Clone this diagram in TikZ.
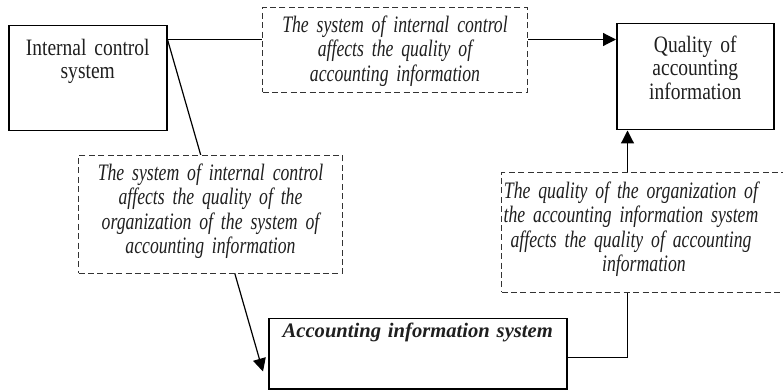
\documentclass[tikz,border=0pt]{standalone}
\usepackage{fontspec}
\setmainfont{Liberation Serif}
\newfontfamily\normfont{Liberation Serif}[FakeStretch=0.83]
\newfontfamily\notefont{Liberation Serif}[FakeStretch=0.75]
\usetikzlibrary{arrows.meta}
\begin{document}
\begin{tikzpicture}[x=0.5pt,y=-0.5pt,>={Triangle[length=6.5pt,width=6.5pt]},
  every node/.style={inner sep=0pt,anchor=north west,align=center,text=black!88},
  mainbox/.style={draw,line width=0.75pt,font=\normfont\fontsize{11.75}{11.6}\selectfont},
  notebox/.style={draw=black!80,fill=white,dash pattern=on 3pt off 1.7pt,line width=0.5pt,font=\notefont\itshape\fontsize{11.8}{12.2}\selectfont},
  link/.style={line width=0.6pt}]
  \useasboundingbox (0,0) rectangle (783,390);
  % boxes
  \node[mainbox,text width=79pt,text height=15pt,text depth=37.5pt] (ics) at (8,25) {Internal control\\system};
  \node[mainbox,text width=78.5pt,text height=14.5pt,text depth=38.5pt] (qai) at (616,23) {Quality of\\accounting\\information};
  \node[mainbox,font=\bfseries\itshape\fontsize{10.3}{12}\selectfont,text width=149pt,text height=9.5pt,text depth=25.5pt] (ais) at (268,318) {Accounting information system};
  \node[notebox,text width=132.5pt,text height=12.5pt,text depth=30pt] (tdash) at (262,7) {The system of internal control\\affects the quality of\\accounting information};
  \node[notebox,text width=142.5pt,text height=13pt,text depth=47pt] (rdash) at (501,172) {\advance\rightskip by 13pt The quality of the organization of\\the accounting information system\\affects the quality of accounting\\information};
  % connectors
  \coordinate (k) at ([yshift=-7.25pt]ics.north east);
  \draw[link] (k) -- (k -| tdash.west);
  \draw[link,->] (k -| tdash.east) -- (k -| qai.west);
  \draw[link,->] (k) -- ([xshift=-2.5pt,yshift=9pt]ais.south west);
  \coordinate (m) at ([xshift=-8.25pt]rdash.south);
  \coordinate (n) at ([xshift=-8.25pt]rdash.north);
  \draw[link] ([yshift=-2pt]ais.east) -| (m);
  \draw[link,->] (n) -- (n |- qai.south);
  % this one sits on top of the slanted line
  \node[notebox,text width=132pt,text height=12.5pt,text depth=46.5pt] (ldash) at (78,155) {The system of internal control\\affects the quality of the\\organization of the system of\\accounting information};
\end{tikzpicture}
\end{document}
